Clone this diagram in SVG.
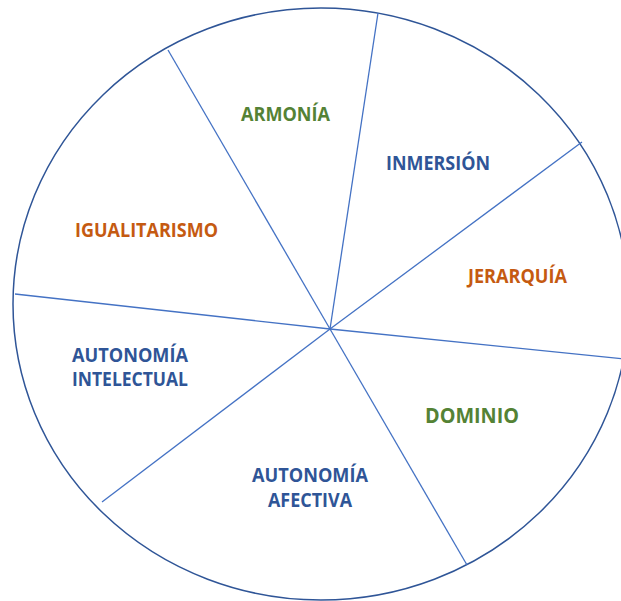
<svg xmlns="http://www.w3.org/2000/svg" width="621" height="601" viewBox="0 0 621 601">
<style>
.rim{fill:none;stroke:#2f5597;stroke-width:1.5}
.div{stroke:#4472c4;stroke-width:1.3;fill:none}
text{font-family:"Open Sans","Liberation Sans",sans-serif;font-weight:700;font-size:18.8px}
.g{fill:#548235}.o{fill:#c55a11}.b{fill:#2f5597}
</style>
<rect width="621" height="601" fill="#ffffff"/>
<ellipse id="rim" class="rim" cx="321" cy="304" rx="308" ry="296"/>
<g id="connectors">
<line class="div" x1="330" y1="329" x2="168" y2="50"/>
<line class="div" x1="330" y1="329" x2="378" y2="13"/>
<line class="div" x1="330" y1="329" x2="582" y2="142"/>
<line class="div" x1="330" y1="329" x2="625" y2="359"/>
<line class="div" x1="330" y1="329" x2="467" y2="565"/>
<line class="div" x1="330" y1="329" x2="102" y2="502"/>
<line class="div" x1="330" y1="329" x2="15" y2="294"/>
</g>
<g id="armonia"><text class="g" x="241" y="121" textLength="89" lengthAdjust="spacingAndGlyphs">ARMONÍA</text></g>
<g id="inmersion"><text class="b" x="386" y="170" textLength="104" lengthAdjust="spacingAndGlyphs">INMERSIÓN</text></g>
<g id="igualitarismo"><text class="o" x="75" y="237" textLength="143" lengthAdjust="spacingAndGlyphs">IGUALITARISMO</text></g>
<g id="jerarquia"><text class="o" x="468" y="283" textLength="99" lengthAdjust="spacingAndGlyphs">JERARQUÍA</text></g>
<g id="dominio"><text class="g" x="425" y="423" style="font-size:21px" textLength="94" lengthAdjust="spacingAndGlyphs">DOMINIO</text></g>
<g id="autonomia-intelectual">
<text class="b" x="72" y="362" textLength="116" lengthAdjust="spacingAndGlyphs">AUTONOMÍA</text>
<text class="b" x="72" y="386" textLength="116" lengthAdjust="spacingAndGlyphs">INTELECTUAL</text>
</g>
<g id="autonomia-afectiva">
<text class="b" x="252" y="482" textLength="116" lengthAdjust="spacingAndGlyphs">AUTONOMÍA</text>
<text class="b" x="268" y="507" textLength="84" lengthAdjust="spacingAndGlyphs">AFECTIVA</text>
</g>
</svg>
